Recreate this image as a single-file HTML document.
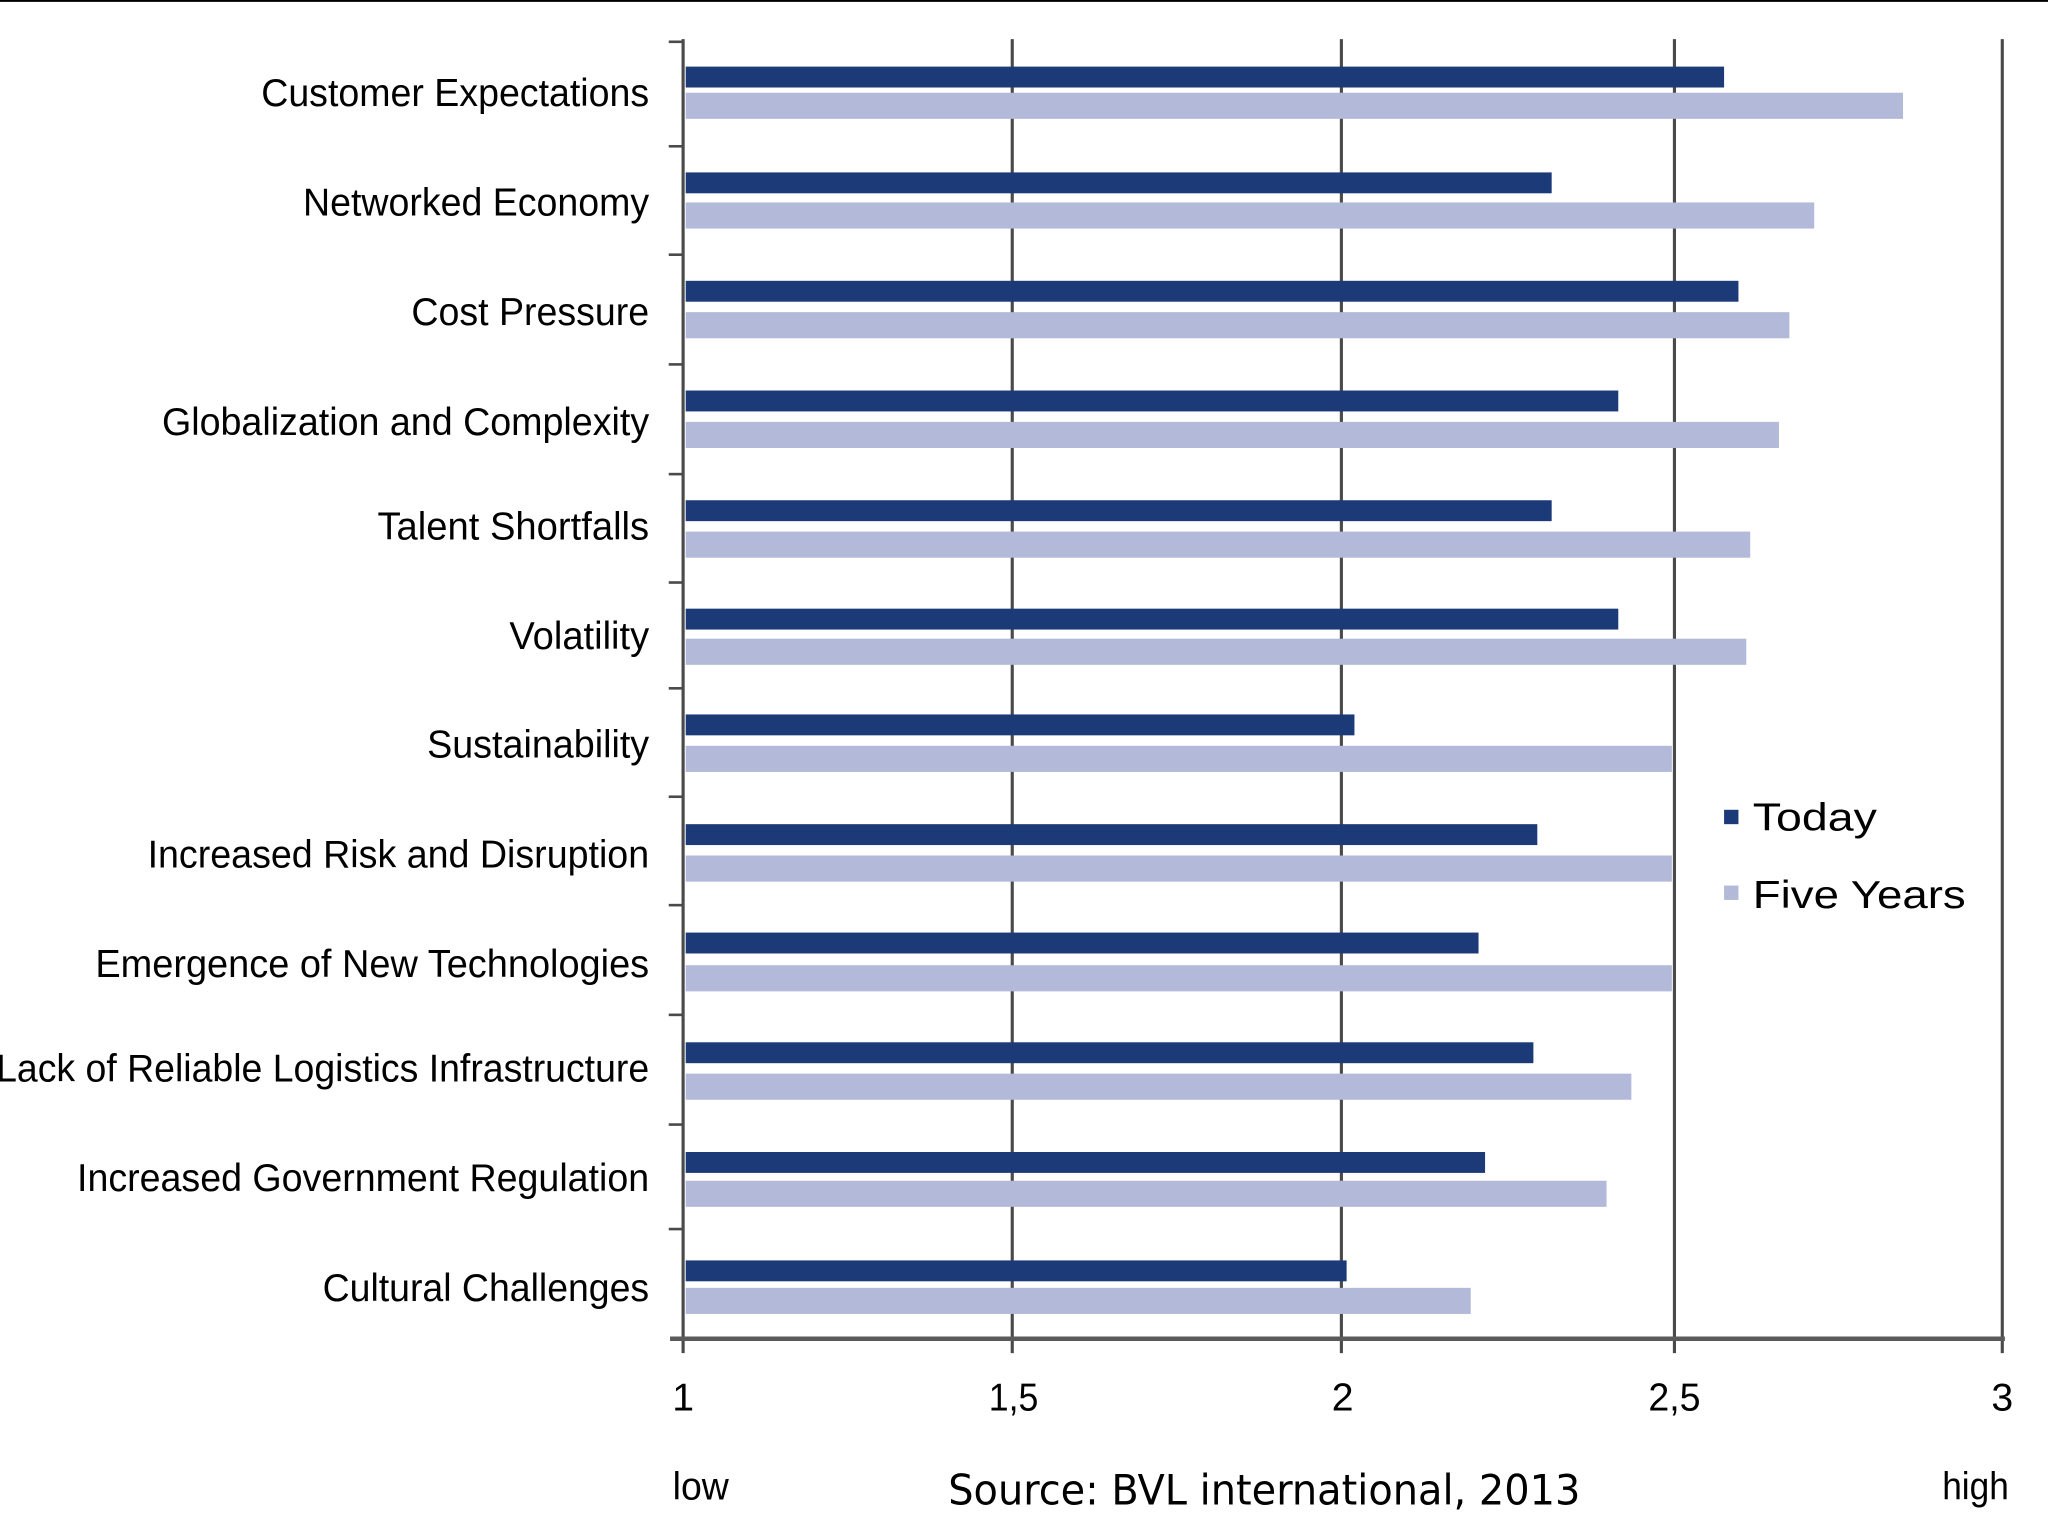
<!DOCTYPE html>
<html><head><meta charset="utf-8"><style>
html,body{margin:0;padding:0;background:#fff;}
svg{display:block;}
text{font-family:"Liberation Sans",sans-serif;fill:#000;}
</style></head><body>
<svg width="2048" height="1536" viewBox="0 0 1568 1176" preserveAspectRatio="none" xmlns="http://www.w3.org/2000/svg">
<rect width="1568" height="1176" fill="#fff"/>
<line x1="0" y1="0.7" x2="1568" y2="0.7" stroke="#000" stroke-width="1.5"/>
<g stroke="#4a4a4a" stroke-width="2.4">
<line x1="775" y1="30" x2="775" y2="1036"/>
<line x1="1027" y1="30" x2="1027" y2="1036"/>
<line x1="1282" y1="30" x2="1282" y2="1036"/>
<line x1="1533" y1="30" x2="1533" y2="1036"/>
<line x1="523" y1="30" x2="523" y2="1036"/>
</g>
<line x1="513" y1="1025" x2="1535" y2="1025" stroke="#5a5a5a" stroke-width="3.5"/>
<g stroke="#4a4a4a" stroke-width="2">
<line x1="512" y1="32" x2="523" y2="32"/><line x1="512" y1="112" x2="523" y2="112"/>
<line x1="512" y1="195" x2="523" y2="195"/><line x1="512" y1="279" x2="523" y2="279"/>
<line x1="512" y1="363" x2="523" y2="363"/><line x1="512" y1="446" x2="523" y2="446"/>
<line x1="512" y1="527" x2="523" y2="527"/><line x1="512" y1="610" x2="523" y2="610"/>
<line x1="512" y1="693" x2="523" y2="693"/><line x1="512" y1="777" x2="523" y2="777"/>
<line x1="512" y1="861" x2="523" y2="861"/><line x1="512" y1="941" x2="523" y2="941"/>
</g>
<g fill="#1c3a78">
<rect x="525" y="51" width="795" height="16"/>
<rect x="525" y="132" width="663" height="16"/>
<rect x="525" y="215" width="806" height="16"/>
<rect x="525" y="299" width="714" height="16"/>
<rect x="525" y="383" width="663" height="16"/>
<rect x="525" y="466" width="714" height="16"/>
<rect x="525" y="547" width="512" height="16"/>
<rect x="525" y="631" width="652" height="16"/>
<rect x="525" y="714" width="607" height="16"/>
<rect x="525" y="798" width="649" height="16"/>
<rect x="525" y="882" width="612" height="16"/>
<rect x="525" y="965" width="506" height="16"/>
</g>
<g fill="#b3b9d8">
<rect x="525" y="71" width="932" height="20"/>
<rect x="525" y="155" width="864" height="20"/>
<rect x="525" y="239" width="845" height="20"/>
<rect x="525" y="323" width="837" height="20"/>
<rect x="525" y="407" width="815" height="20"/>
<rect x="525" y="489" width="812" height="20"/>
<rect x="525" y="571" width="755" height="20"/>
<rect x="525" y="655" width="755" height="20"/>
<rect x="525" y="739" width="755" height="20"/>
<rect x="525" y="822" width="724" height="20"/>
<rect x="525" y="904" width="705" height="20"/>
<rect x="525" y="986" width="601" height="20"/>
</g>
<g font-size="30" text-anchor="end">
<text x="497" y="81" textLength="297" lengthAdjust="spacingAndGlyphs">Customer Expectations</text>
<text x="497" y="165" textLength="265" lengthAdjust="spacingAndGlyphs">Networked Economy</text>
<text x="497" y="249" textLength="182" lengthAdjust="spacingAndGlyphs">Cost Pressure</text>
<text x="497" y="333" textLength="373" lengthAdjust="spacingAndGlyphs">Globalization and Complexity</text>
<text x="497" y="413" textLength="208" lengthAdjust="spacingAndGlyphs">Talent Shortfalls</text>
<text x="497" y="497" textLength="107" lengthAdjust="spacingAndGlyphs">Volatility</text>
<text x="497" y="580" textLength="170" lengthAdjust="spacingAndGlyphs">Sustainability</text>
<text x="497" y="664" textLength="384" lengthAdjust="spacingAndGlyphs">Increased Risk and Disruption</text>
<text x="497" y="748" textLength="424" lengthAdjust="spacingAndGlyphs">Emergence of New Technologies</text>
<text x="497" y="828" textLength="500" lengthAdjust="spacingAndGlyphs">Lack of Reliable Logistics Infrastructure</text>
<text x="497" y="912" textLength="438" lengthAdjust="spacingAndGlyphs">Increased Government Regulation</text>
<text x="497" y="996" textLength="250" lengthAdjust="spacingAndGlyphs">Cultural Challenges</text>
</g>
<g font-size="30" text-anchor="middle">
<text x="523" y="1080">1</text>
<text x="776" y="1080" textLength="38" lengthAdjust="spacingAndGlyphs">1,5</text>
<text x="1028" y="1080">2</text>
<text x="1282" y="1080" textLength="40" lengthAdjust="spacingAndGlyphs">2,5</text>
<text x="1533" y="1080">3</text>
</g>
<text x="515" y="1148" font-size="30" textLength="43" lengthAdjust="spacingAndGlyphs">low</text>
<text x="1487" y="1148" font-size="30" textLength="51" lengthAdjust="spacingAndGlyphs">high</text>
<text x="726" y="1152" font-size="32" textLength="484" lengthAdjust="spacingAndGlyphs" style="font-family:'DejaVu Sans',sans-serif">Source: BVL international, 2013</text>
<rect x="1320" y="620" width="11" height="11" fill="#1c3a78"/>
<rect x="1320" y="678" width="11" height="11" fill="#b3b9d8"/>
<text x="1342" y="636" font-size="30" textLength="95" lengthAdjust="spacingAndGlyphs">Today</text>
<text x="1342" y="695" font-size="30" textLength="163" lengthAdjust="spacingAndGlyphs">Five Years</text>
</svg>
</body></html>
